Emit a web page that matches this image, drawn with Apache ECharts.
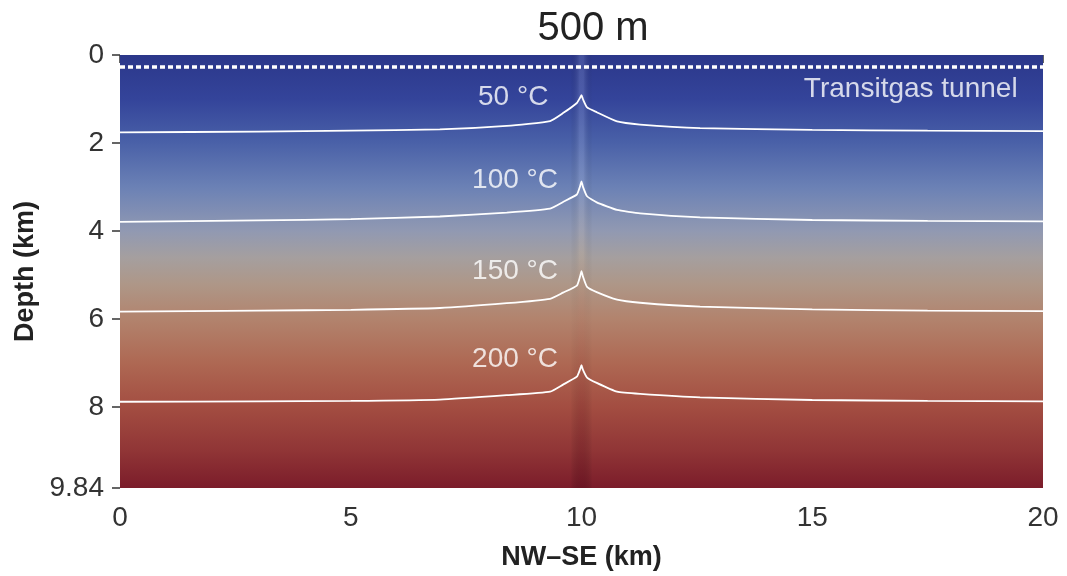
<!DOCTYPE html>
<html>
<head>
<meta charset="utf-8">
<script src="https://cdn.jsdelivr.net/npm/echarts@6/dist/echarts.min.js"></script>
<style>
  html, body { margin: 0; padding: 0; background: #ffffff; }
  #chart { width: 1067px; height: 576px; }
</style>
</head>
<body>
<div id="chart"></div>
<script>
// Section extent (km)
const distanceRange = [0, 20];
const depthRange = [0, 9.84];
const distanceTicks = [0, 5, 10, 15, 20];
const depthTicks = [0, 2, 4, 6, 8, 9.84];

// Background temperature colouring by depth (km -> colour)
const depthColours = [
  [0.0, '#2b378a'], [1.0, '#34449a'], [2.0, '#4a61a8'], [3.0, '#6b81b5'],
  [4.0, '#9199b2'], [4.6, '#a59f9f'], [5.2, '#ae9788'], [6.0, '#b2836d'],
  [7.0, '#ae6853'], [8.0, '#a34d41'], [9.0, '#903536'], [9.84, '#7b1c2a']
];

// Fault-zone tint along x = 10 km (depth km -> rgba)
const faultX = 10;
const faultTint = [
  [0.0, [190, 205, 245, 0.18]], [3.0, [200, 210, 240, 0.20]],
  [4.5, [230, 190, 140, 0.15]], [6.0, [150, 60, 50, 0.06]],
  [8.0, [90, 15, 25, 0.18]], [9.84, [70, 5, 20, 0.28]]
];

// Isotherms: [distance km, depth km]
const iso50 = [[0,1.76],[3,1.74],[5,1.72],[6.93,1.69],[8.38,1.61],[9.32,1.50],[9.6,1.32],[9.9,1.09],[9.97,0.97],[10,0.91],[10.03,1.0],[10.12,1.19],[10.33,1.30],[10.77,1.51],[11.27,1.58],[12.57,1.66],[15,1.70],[17.5,1.72],[20,1.73]];
const iso100 = [[0,3.79],[3,3.76],[5,3.73],[6.93,3.67],[8.38,3.58],[9.32,3.49],[9.6,3.34],[9.9,3.17],[9.97,2.98],[10,2.87],[10.03,2.99],[10.12,3.21],[10.33,3.35],[10.77,3.52],[11.27,3.60],[12.57,3.69],[15,3.75],[17.5,3.77],[20,3.78]];
const iso150 = [[0,5.83],[3,5.81],[5,5.79],[6.93,5.75],[8.38,5.64],[9.32,5.54],[9.6,5.40],[9.9,5.24],[9.97,5.03],[10,4.91],[10.03,5.03],[10.12,5.27],[10.33,5.39],[10.77,5.56],[11.27,5.63],[12.57,5.72],[15,5.78],[17.5,5.81],[20,5.82]];
const iso200 = [[0,7.88],[3,7.87],[5,7.86],[6.93,7.83],[8.38,7.73],[9.32,7.65],[9.6,7.49],[9.9,7.31],[9.97,7.14],[10,7.05],[10.03,7.15],[10.12,7.33],[10.33,7.45],[10.77,7.65],[11.27,7.70],[12.57,7.78],[15,7.84],[17.5,7.86],[20,7.87]];
const isoLabels = ['50 °C', '100 °C', '150 °C', '200 °C'];

// Transitgas tunnel depth (km)
const tunnelDepth = 0.27;

const FONT = 'Liberation Sans, Arial, sans-serif';
const chart = echarts.init(document.getElementById('chart'), null, { renderer: 'canvas' });

function mixTint(d) {
  for (let i = 0; i < faultTint.length - 1; i++) {
    const a = faultTint[i], b = faultTint[i + 1];
    if (d >= a[0] && d <= b[0]) {
      const t = (d - a[0]) / (b[0] - a[0]);
      const c = a[1].map((v, k) => v + (b[1][k] - v) * t);
      return 'rgba(' + Math.round(c[0]) + ',' + Math.round(c[1]) + ',' + Math.round(c[2]) + ',' + c[3].toFixed(3) + ')';
    }
  }
  const l = faultTint[faultTint.length - 1][1];
  return 'rgba(' + l.join(',') + ')';
}

const fieldSeries = {
  type: 'custom',
  silent: true,
  z: 1,
  data: [[distanceRange[0], depthRange[0], distanceRange[1], depthRange[1]]],
  renderItem: function (params, api) {
    const p0 = api.coord([api.value(0), api.value(1)]);
    const p1 = api.coord([api.value(2), api.value(3)]);
    const span = depthRange[1] - depthRange[0];
    const stops = depthColours.map(s => ({ offset: (s[0] - depthRange[0]) / span, color: s[1] }));
    const children = [{
      type: 'rect',
      shape: { x: p0[0], y: p0[1], width: p1[0] - p0[0], height: p1[1] - p0[1] },
      style: { fill: new echarts.graphic.LinearGradient(0, 0, 0, 1, stops) }
    }];
    // fault tint, drawn as pixel-aligned slices down the section
    const half = 0.24;
    const top = Math.round(p0[1]);
    const bottom = Math.round(p1[1]);
    const left = api.coord([faultX - half, 0])[0];
    const right = api.coord([faultX + half, 0])[0];
    const pxPerKm = (bottom - top) / span;
    for (let y = top; y < bottom; y += 2) {
      const h = Math.min(2, bottom - y);
      const d = depthRange[0] + (y + h / 2 - top) / pxPerKm;
      const col = mixTint(d);
      children.push({
        type: 'rect',
        shape: { x: left, y: y, width: right - left, height: h },
        style: {
          fill: new echarts.graphic.LinearGradient(0, 0, 1, 0, [
            { offset: 0, color: 'rgba(0,0,0,0)' },
            { offset: 0.42, color: col },
            { offset: 0.58, color: col },
            { offset: 1, color: 'rgba(0,0,0,0)' }
          ])
        }
      });
    }
    return { type: 'group', children: children };
  }
};

function isoSeries(data) {
  return {
    type: 'line', data: data, z: 3, silent: true,
    showSymbol: false, smooth: 0.15,
    lineStyle: { color: '#ffffff', width: 1.8 }
  };
}

const labelSeries = {
  type: 'scatter', z: 4, silent: true, symbolSize: 0,
  data: [
    { value: [8.52, 0.95], name: isoLabels[0] },
    { value: [8.56, 2.84], name: isoLabels[1] },
    { value: [8.56, 4.91], name: isoLabels[2] },
    { value: [8.56, 6.91], name: isoLabels[3] }
  ],
  label: {
    show: true, position: 'inside', formatter: p => p.name,
    color: '#ffffff', fontFamily: FONT, fontSize: 28
  }
};

const tunnelSeries = {
  type: 'line', z: 4, silent: true, showSymbol: false,
  data: [[distanceRange[0], tunnelDepth], [distanceRange[1], tunnelDepth]],
  lineStyle: { color: '#ffffff', width: 3.5, type: [5, 3] }
};

const tunnelLabel = {
  type: 'scatter', z: 4, silent: true, symbolSize: 0,
  data: [{ value: [19.45, 0.78], name: 'Transitgas tunnel' }],
  label: {
    show: true, position: 'inside', align: 'right', formatter: p => p.name,
    color: '#ffffff', fontFamily: FONT, fontSize: 28
  }
};

chart.setOption({
  animation: false,
  backgroundColor: '#ffffff',
  title: {
    text: '500 m', left: 588, top: 4, textAlign: 'center',
    textStyle: { fontFamily: FONT, fontSize: 40, fontWeight: 'normal', color: '#222222' }
  },
  grid: { left: 120, right: 24, top: 55, bottom: 84 },
  xAxis: {
    type: 'value', min: distanceRange[0], max: distanceRange[1], interval: 5,
    name: 'NW–SE (km)', nameLocation: 'middle', nameGap: 56,
    nameTextStyle: { fontFamily: FONT, fontSize: 27, fontWeight: 'bold', color: '#222222' },
    axisLine: { show: false },
    axisTick: { show: true, length: 8, lineStyle: { color: '#333333', width: 1.5 } },
    axisLabel: {
      margin: 16, fontFamily: FONT, fontSize: 28, color: '#333333',
      formatter: v => distanceTicks.includes(v) ? String(v) : ''
    },
    splitLine: { show: false }
  },
  yAxis: {
    type: 'value', inverse: true, min: depthRange[0], max: depthRange[1], interval: 2,
    name: 'Depth (km)', nameLocation: 'middle', nameGap: 73, nameRotate: 90,
    nameTextStyle: { fontFamily: FONT, fontSize: 27, fontWeight: 'bold', color: '#222222' },
    axisLine: { show: false },
    axisTick: { show: true, length: 8, lineStyle: { color: '#333333', width: 1.5 } },
    axisLabel: {
      margin: 16, fontFamily: FONT, fontSize: 28, color: '#333333',
      showMaxLabel: true,
      formatter: v => {
        const hit = depthTicks.find(t => Math.abs(t - v) < 1e-6);
        return hit === undefined ? '' : String(hit);
      }
    },
    splitLine: { show: false }
  },
  series: [
    fieldSeries,
    isoSeries(iso50), isoSeries(iso100), isoSeries(iso150), isoSeries(iso200),
    tunnelSeries, labelSeries, tunnelLabel
  ]
});
</script>
</body>
</html>
